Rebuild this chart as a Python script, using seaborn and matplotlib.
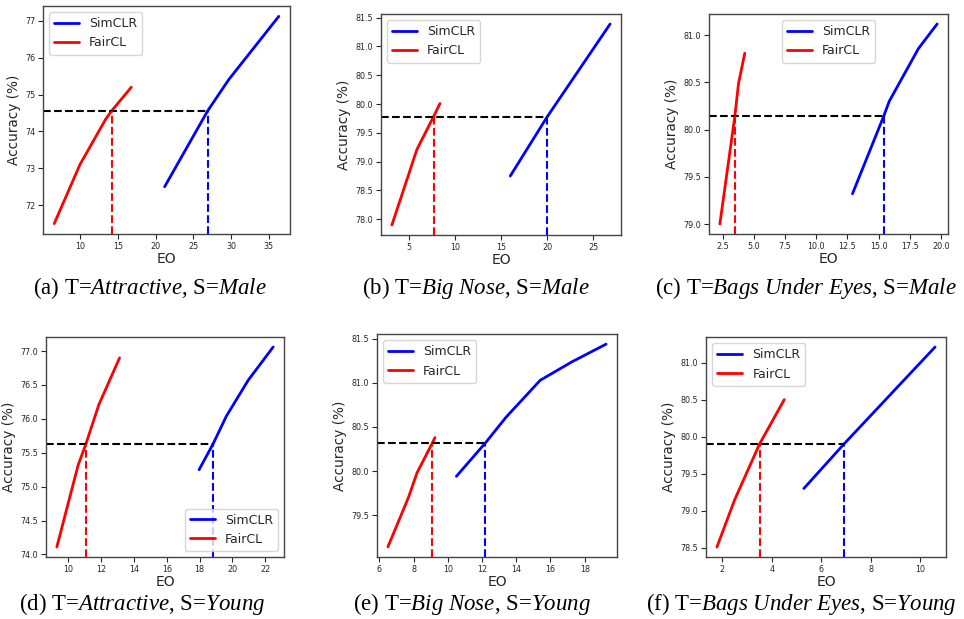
import matplotlib
matplotlib.use("Agg")
import matplotlib.pyplot as plt
import seaborn as sns
import pandas as pd

sns.set_style("ticks")
plt.rcParams['font.family'] = ['DejaVu Sans']
plt.rcParams['mathtext.fontset'] = 'custom'
plt.rcParams['mathtext.rm'] = 'Liberation Serif'
plt.rcParams['mathtext.it'] = 'Liberation Serif:italic'

# ---------------- data ----------------
# (a) T=Attractive, S=Male
a_sim_eo = [21.2, 26.9, 29.7, 36.3]
a_sim_acc = [72.5, 74.56, 75.41, 77.12]
a_fair_eo = [6.6, 10.0, 13.4, 14.2, 16.8]
a_fair_acc = [71.5, 73.1, 74.33, 74.56, 75.2]
a_ref = (74.56, 26.9, 14.2)

# (b) T=Big Nose, S=Male
b_sim_eo = [16.0, 20.0, 26.8]
b_sim_acc = [78.75, 79.78, 81.39]
b_fair_eo = [3.2, 5.9, 7.7, 8.4]
b_fair_acc = [77.9, 79.21, 79.78, 80.01]
b_ref = (79.78, 20.0, 7.7)

# (c) T=Bags Under Eyes, S=Male
c_sim_eo = [12.9, 15.4, 15.85, 18.2, 19.7]
c_sim_acc = [79.32, 80.14, 80.30, 80.86, 81.12]
c_fair_eo = [2.25, 3.45, 3.75, 4.25]
c_fair_acc = [79.0, 80.14, 80.49, 80.81]
c_ref = (80.14, 15.4, 3.45)

# (d) T=Attractive, S=Young
d_sim_eo = [17.97, 18.82, 19.63, 20.96, 22.48]
d_sim_acc = [75.25, 75.63, 76.04, 76.57, 77.06]
d_fair_eo = [9.31, 10.61, 11.08, 11.87, 13.13]
d_fair_acc = [74.11, 75.32, 75.63, 76.21, 76.90]
d_ref = (75.63, 18.82, 11.08)

# (e) T=Big Nose, S=Young
e_sim_eo = [10.5, 12.2, 13.4, 15.4, 17.26, 19.25]
e_sim_acc = [79.94, 80.32, 80.61, 81.03, 81.24, 81.44]
e_fair_eo = [6.5, 7.7, 8.2, 9.1, 9.25]
e_fair_acc = [79.14, 79.70, 79.98, 80.32, 80.38]
e_ref = (80.32, 12.2, 9.1)

# (f) T=Bags Under Eyes, S=Young
f_sim_eo = [5.29, 6.91, 10.59]
f_sim_acc = [79.30, 79.90, 81.21]
f_fair_eo = [1.78, 2.5, 3.5, 4.5]
f_fair_acc = [78.51, 79.15, 79.90, 80.50]
f_ref = (79.90, 6.91, 3.5)

captions = [
    r"(a) T=$\mathit{Attractive}$, S=$\mathit{Male}$",
    r"(b) T=$\mathit{Big\ Nose}$, S=$\mathit{Male}$",
    r"(c) T=$\mathit{Bags\ Under\ Eyes}$, S=$\mathit{Male}$",
    r"(d) T=$\mathit{Attractive}$, S=$\mathit{Young}$",
    r"(e) T=$\mathit{Big\ Nose}$, S=$\mathit{Young}$",
    r"(f) T=$\mathit{Bags\ Under\ Eyes}$, S=$\mathit{Young}$",
]

panels = [
    (a_sim_eo, a_sim_acc, a_fair_eo, a_fair_acc, a_ref, "upper left"),
    (b_sim_eo, b_sim_acc, b_fair_eo, b_fair_acc, b_ref, "upper left"),
    (c_sim_eo, c_sim_acc, c_fair_eo, c_fair_acc, c_ref, "upper center"),
    (d_sim_eo, d_sim_acc, d_fair_eo, d_fair_acc, d_ref, "lower right"),
    (e_sim_eo, e_sim_acc, e_fair_eo, e_fair_acc, e_ref, "upper left"),
    (f_sim_eo, f_sim_acc, f_fair_eo, f_fair_acc, f_ref, "upper left"),
]

# axes rectangles [left, top, right, bottom] in pixels
W, H = 964, 619
boxes_px = [
    (43, 6, 290, 234), (381, 14, 621, 235), (709, 14, 948, 234),
    (46, 337, 284, 557), (377, 334, 617, 557), (706, 337, 946, 557),
]
cap_pos = [(150, 288), (476, 288), (806, 288), (142, 604), (472, 604), (801, 604)]

fig = plt.figure(figsize=(W / 100, H / 100), dpi=100)

for i, (se, sa, fe, fa, ref, loc) in enumerate(panels):
    l, t, r, b = boxes_px[i]
    ax = fig.add_axes([l / W, 1 - b / H, (r - l) / W, (b - t) / H])
    sim_df = pd.DataFrame({"EO": se, "Acc": sa})
    fair_df = pd.DataFrame({"EO": fe, "Acc": fa})
    sns.lineplot(data=sim_df, x="EO", y="Acc", color="blue", lw=2, label="SimCLR",
                 ax=ax, sort=False, estimator=None)
    sns.lineplot(data=fair_df, x="EO", y="Acc", color="red", lw=2, label="FairCL",
                 ax=ax, sort=False, estimator=None)
    x0, x1 = ax.get_xlim()
    y0, y1 = ax.get_ylim()
    acc, sx, fx = ref
    ax.plot([x0, sx], [acc, acc], color="black", ls="--", lw=1.5)
    ax.plot([fx, fx], [y0, acc], color="red", ls="--", lw=1.5)
    ax.plot([sx, sx], [y0, acc], color="blue", ls="--", lw=1.5)
    ax.set_xlim(x0, x1)
    ax.set_ylim(y0, y1)
    ax.set_xlabel("EO", fontsize=10, labelpad=1)
    ax.set_ylabel("Accuracy (%)", fontsize=9.8, labelpad=3)
    ax.tick_params(labelsize=5.8, length=3.5, width=0.8, pad=2)
    for s in ax.spines.values():
        s.set_color("#444444")
        s.set_linewidth(1.0)
    ax.legend(loc=loc, fontsize=9, framealpha=0.8)
    cx, cy = cap_pos[i]
    fig.text(cx / W, 1 - cy / H, captions[i], ha="center", va="center",
             fontsize=16.5, family="Liberation Serif", color="black")

fig.savefig("out.png", dpi=100)
